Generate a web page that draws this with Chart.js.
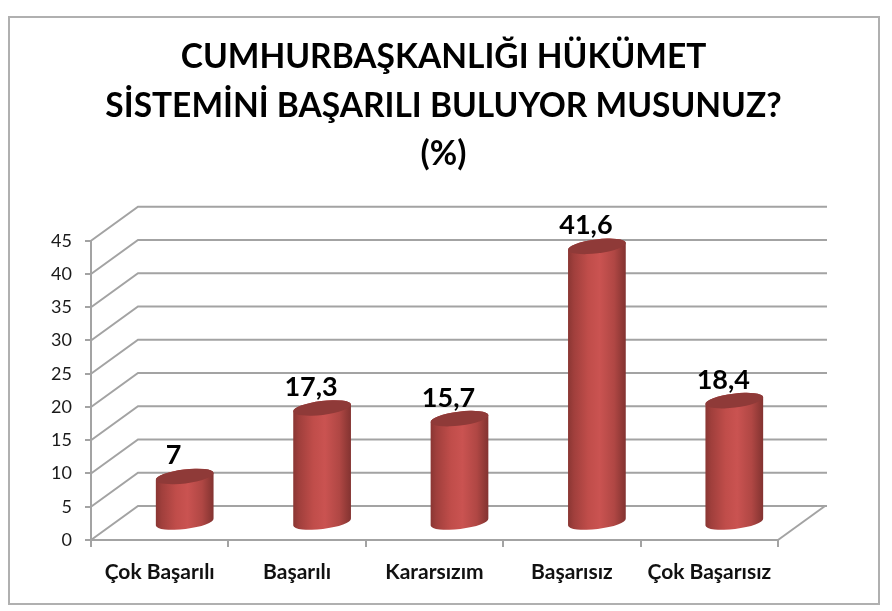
<!DOCTYPE html>
<html>
<head>
<meta charset="utf-8">
<style>
  html, body { margin:0; padding:0; background:#fff; }
  #frame { position:absolute; left:8px; top:16px; width:868px; height:585px; border:2px solid #b0b0b0; }
  #chart { position:absolute; left:0; top:0; }
</style>
</head>
<body>
<div id="frame"></div>
<canvas id="chart" width="887" height="611"></canvas>
<script src="https://cdn.jsdelivr.net/npm/chart.js@4"></script>
<script>
const CATEGORIES = ['Çok Başarılı','Başarılı','Kararsızım','Başarısız','Çok Başarısız'];
const VALUES = [7, 17.3, 15.7, 41.6, 18.4];
const TITLE_LINES = ['CUMHURBAŞKANLIĞI HÜKÜMET','SİSTEMİNİ BAŞARILI BULUYOR MUSUNUZ?','(%)'];

const GRID = '#a3a3a3';
const DEPTH_X = 47, DEPTH_Y = 34;
const BAR_SHIFT = 25;
const TILT = -7 * Math.PI / 180;

const wallPlugin = {
  id: 'walls',
  beforeDatasetsDraw(chart) {
    const { ctx, scales:{ y }, chartArea:{ left, right } } = chart;
    const floor = y.getPixelForValue(0);
    ctx.save();
    ctx.strokeStyle = GRID;
    ctx.lineWidth = 2;
    y.ticks.forEach(t => {
      const py = y.getPixelForValue(t.value);
      ctx.beginPath();
      ctx.moveTo(left, py);
      ctx.lineTo(left + DEPTH_X, py - DEPTH_Y);
      ctx.lineTo(right + DEPTH_X + 2, py - DEPTH_Y);
      ctx.stroke();
    });
    ctx.beginPath();
    ctx.moveTo(right, floor);
    ctx.lineTo(right + DEPTH_X, floor - DEPTH_Y);
    ctx.stroke();
    ctx.restore();
  }
};

// ─── Cylinders: replace the flat bars, using each bar element's own pixels ────
const cylinderPlugin = {
  id: 'cylinders',
  beforeDatasetDraw(chart, args) {
    const { ctx } = chart;
    args.meta.data.forEach(bar => {
      const cx = bar.x + BAR_SHIFT;
      const rx = bar.width / 2;
      const a = rx / Math.cos(TILT);
      const ry = 7;
      const topY = bar.y - DEPTH_Y / 2;
      const baseY = bar.base - DEPTH_Y / 2;

      const g = ctx.createLinearGradient(cx - rx, 0, cx + rx, 0);
      g.addColorStop(0, '#8a3633');
      g.addColorStop(0.1, '#a03f3c');
      g.addColorStop(0.35, '#c04d4a');
      g.addColorStop(0.55, '#ca5351');
      g.addColorStop(0.8, '#b04744');
      g.addColorStop(0.93, '#923a37');
      g.addColorStop(1, '#833331');

      ctx.save();
      ctx.fillStyle = g;
      ctx.beginPath();
      ctx.ellipse(cx, baseY, a, ry, TILT, 0, Math.PI);
      ctx.ellipse(cx, topY, a, ry, TILT, Math.PI, 0);
      ctx.closePath();
      ctx.fill();

      ctx.fillStyle = '#8f3a38';
      ctx.beginPath();
      ctx.ellipse(cx, topY, a, ry, TILT, 0, Math.PI * 2);
      ctx.fill();
      ctx.restore();
    });
    return false;
  },
  afterDatasetsDraw(chart) {
    const { ctx } = chart;
    const meta = chart.getDatasetMeta(0);
    ctx.save();
    ctx.font = 'bold 27px Lato';
    ctx.fillStyle = '#000';
    ctx.textAlign = 'center';
    ctx.textBaseline = 'alphabetic';
    meta.data.forEach((bar, i) => {
      const label = String(VALUES[i]).replace('.', ',');
      ctx.fillText(label, bar.x + BAR_SHIFT - 11, bar.y - DEPTH_Y / 2 - 12);
    });
    ctx.restore();
  }
};

new Chart(document.getElementById('chart').getContext('2d'), {
  type: 'bar',
  data: {
    labels: CATEGORIES,
    datasets: [{
      data: VALUES,
      backgroundColor: '#c0504d',
      categoryPercentage: 1,
      barPercentage: 0.42,
    }]
  },
  options: {
    responsive: false,
    animation: false,
    plugins: {
      legend: { display:false },
      tooltip: { enabled:false },
      title: {
        display: true,
        text: TITLE_LINES,
        color: '#000',
        font: { family:'Lato', size:33.5, weight:'bold', lineHeight:1.45 },
        padding: { top:33, bottom:62 },
      }
    },
    scales: {
      x: {
        afterFit: s => { s.height = 71; },
        ticks: { color:'#111', font:{ family:'Lato', size:21, weight:'bold' }, padding:13, maxRotation:0 },
        grid: { color:GRID, lineWidth:2, drawOnChartArea:false, tickLength:7 },
        border: { color:GRID, width:2 },
      },
      y: {
        min: 0, max: 45,
        afterFit: s => { s.width = 91; },
        ticks: { stepSize:5, color:'#1a1a1a', font:{ family:'Lato', size:18 }, padding:13 },
        grid: { color:GRID, lineWidth:2, drawOnChartArea:false, tickLength:6 },
        border: { color:GRID, width:2 },
      },
      // empty scale on the right: reserves room for the 3D depth so the title stays centred on the page
      depthGutter: {
        position: 'right',
        afterFit: s => { s.width = 109; },
        ticks: { display:false },
        grid: { display:false },
        border: { display:false },
      }
    }
  },
  plugins: [wallPlugin, cylinderPlugin]
});
</script>
</body>
</html>
